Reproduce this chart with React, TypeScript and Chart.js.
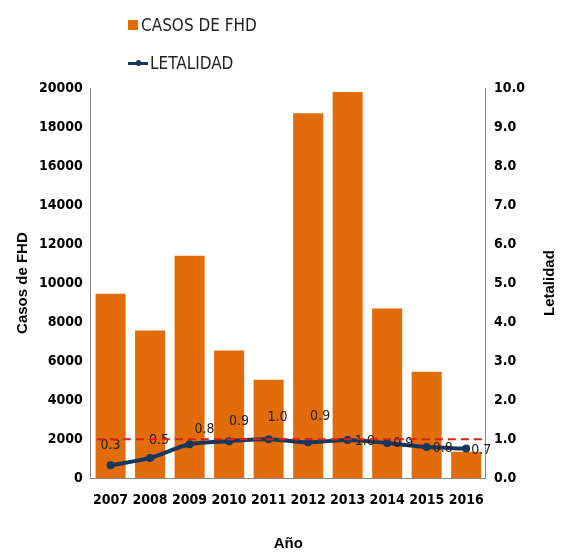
import { useEffect, useRef } from "react";
import Chart from "chart.js/auto";

const years = ["2007", "2008", "2009", "2010", "2011", "2012", "2013", "2014", "2015", "2016"];
const casos = [9450, 7570, 11400, 6550, 5050, 18700, 19800, 8700, 5450, 1350];
const letalidad = [0.33, 0.52, 0.87, 0.95, 1.0, 0.92, 0.98, 0.9, 0.8, 0.76];
const letalidadLabels = ["0.3", "0.5", "0.8", "0.9", "1.0", "0.9", "1.0", "0.9", "0.8", "0.7"];
const umbral = 1.0;

const FONT = "'DejaVu Sans Condensed', 'Liberation Sans', Arial, sans-serif";
const TITLE_FONT = "'Liberation Sans', Arial, sans-serif";

// label offsets in px relative to each point
const labelOffsets: [number, number][] = [
  [0, -20], [9, -18], [15, -15], [10, -20], [9, -22], [12, -26], [17, 1], [16, 0], [16, 1], [15, 2],
];

const labelsPlugin = {
  id: "lineLabels",
  afterDatasetsDraw(chart: any) {
    const meta = chart.getDatasetMeta(1);
    const ctx = chart.ctx;
    ctx.save();
    ctx.font = `14px ${FONT}`;
    ctx.fillStyle = "#222";
    ctx.textAlign = "center";
    ctx.textBaseline = "middle";
    meta.data.forEach((pt: any, i: number) => {
      const [dx, dy] = labelOffsets[i];
      ctx.fillText(letalidadLabels[i], pt.x + dx, pt.y + dy);
    });
    const y = chart.scales.y1.getPixelForValue(umbral);
    ctx.strokeStyle = "#d9201c";
    ctx.lineWidth = 2;
    ctx.setLineDash([8, 5]);
    ctx.beginPath();
    ctx.moveTo(chart.chartArea.left + 6, y);
    ctx.lineTo(chart.chartArea.right - 4, y);
    ctx.stroke();
    // right axis title, reading bottom-to-top
    const r = chart.scales.y1;
    ctx.setLineDash([]);
    ctx.translate(r.right - 4, (chart.chartArea.top + chart.chartArea.bottom) / 2);
    ctx.rotate(-Math.PI / 2);
    ctx.font = `bold 15px ${TITLE_FONT}`;
    ctx.fillStyle = "#000";
    ctx.fillText("Letalidad", 0, 0);
    ctx.restore();
  },
};

const tickFont = { family: FONT, size: 14, weight: "bold" as const };

const App = () => {
  const ref = useRef<HTMLCanvasElement>(null);

  useEffect(() => {
    if (!ref.current) return;
    const chart = new Chart(ref.current, {
      type: "bar",
      data: {
        labels: years,
        datasets: [
          {
            type: "bar",
            label: "CASOS DE FHD",
            data: casos,
            backgroundColor: "#e36c0a",
            yAxisID: "y",
            categoryPercentage: 1,
            barPercentage: 0.76,
            order: 2,
          },
          {
            type: "line",
            label: "LETALIDAD",
            data: letalidad,
            borderColor: "#17375e",
            backgroundColor: "#17375e",
            borderWidth: 4,
            pointRadius: 2,
            tension: 0.3,
            yAxisID: "y1",
            order: 1,
          },
        ],
      },
      options: {
        animation: false,
        responsive: false,
        layout: { padding: { top: 80, right: 0, left: 2, bottom: 0 } },
        plugins: { legend: { display: false }, tooltip: { enabled: false } },
        scales: {
          x: {
            grid: { display: false, drawTicks: true, tickLength: 6, color: "#888" },
            border: { color: "#888" },
            ticks: { color: "#000", maxRotation: 0, autoSkip: false, padding: 8, font: tickFont },
            title: { display: true, text: "Año", color: "#000", font: { family: TITLE_FONT, size: 15, weight: "bold" }, padding: { top: 18, bottom: 0 } },
          },
          y: {
            min: 0, max: 20000,
            ticks: { stepSize: 2000, color: "#000", callback: (v: any) => String(v), font: tickFont },
            grid: { display: false, drawTicks: true, tickLength: 5 },
            border: { color: "#888" },
            title: { display: true, text: "Casos de FHD", color: "#000", font: { family: TITLE_FONT, size: 15, weight: "bold" } },
          },
          y1: {
            position: "right",
            min: 0, max: 10,
            ticks: { stepSize: 1, color: "#000", callback: (v: any) => Number(v).toFixed(1), font: tickFont },
            grid: { display: false, drawTicks: true, tickLength: 5 },
            border: { color: "#888" },
            title: { display: true, text: " ", color: "#000", font: { family: TITLE_FONT, size: 15, weight: "bold" } },
          },
        },
      },
      plugins: [labelsPlugin],
    });
    return () => chart.destroy();
  }, []);

  return (
    <div style={{ position: "relative", width: 546, height: 545, fontFamily: FONT }}>
      <canvas ref={ref} width={546} height={545} />
      <div style={{ position: "absolute", left: 120, top: 4, fontSize: 17, color: "#222" }}>
        <div style={{ display: "flex", alignItems: "center", height: 26 }}>
          <span style={{ width: 10, height: 10, background: "#e36c0a", marginRight: 3 }} />CASOS DE FHD
        </div>
        <div style={{ display: "flex", alignItems: "center", height: 26, marginTop: 12 }}>
          <span style={{ position: "relative", width: 20, height: 3, background: "#17375e", marginRight: 2 }}>
            <span style={{ position: "absolute", left: 8, top: -1.5, width: 5, height: 6, borderRadius: 3, background: "#17375e" }} />
          </span>LETALIDAD
        </div>
      </div>
    </div>
  );
};

export default App;
